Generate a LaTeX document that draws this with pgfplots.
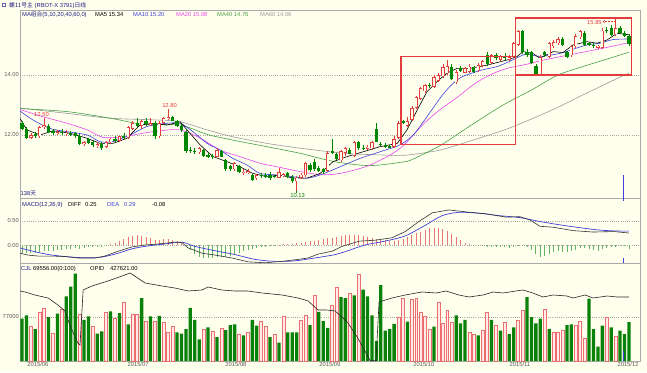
\documentclass[border=0pt]{standalone}
\usepackage{fontspec}
\setmainfont{Liberation Sans}
\newfontfamily\cjk{Noto Sans CJK SC}
\usepackage{pgfplots}
\usepackage{pgfplotstable}
\pgfplotsset{compat=1.18}
\usetikzlibrary{arrows.meta}
\definecolor{bg}{RGB}{255,255,238}
\definecolor{cred}{RGB}{228,60,60}
\definecolor{cgreen}{RGB}{0,135,0}
\definecolor{vred}{RGB}{236,110,110}
\definecolor{vredfill}{RGB}{255,236,232}
\definecolor{vgreen}{RGB}{10,130,10}
\definecolor{hred}{RGB}{232,120,120}
\definecolor{hgreen}{RGB}{100,180,100}
\definecolor{maBlue}{RGB}{64,64,220}
\definecolor{maMag}{RGB}{235,70,235}
\definecolor{maGreen}{RGB}{70,160,70}
\definecolor{maGray}{RGB}{155,155,155}
\definecolor{navy}{RGB}{30,30,130}
\definecolor{frame}{RGB}{170,170,170}
\definecolor{gridc}{RGB}{165,165,165}
\definecolor{lbl}{RGB}{90,90,90}
\newcommand\sm{\fontsize{5.8}{6.5}\selectfont}

\pgfplotstableread{
i o h l c
0 12.40 12.45 12.15 12.20
1 12.20 12.25 11.85 11.90
2 11.90 12.05 11.85 12.00
3 12.02 12.10 11.90 11.95
4 11.95 12.30 11.90 12.25
5 12.25 12.50 12.20 12.32
6 12.30 12.35 12.05 12.10
7 12.12 12.20 12.00 12.05
8 12.04 12.15 12.00 12.10
9 12.10 12.20 12.00 12.05
10 12.02 12.15 11.95 12.08
11 12.08 12.12 11.95 12.00
12 12.05 12.10 11.90 11.95
13 11.98 12.02 11.65 11.70
14 11.70 11.80 11.62 11.76
15 11.85 11.90 11.70 11.72
16 11.75 11.82 11.60 11.65
17 11.63 11.75 11.55 11.70
18 11.70 11.75 11.50 11.55
19 11.60 11.80 11.58 11.75
20 11.75 11.90 11.70 11.88
21 11.88 11.95 11.75 11.80
22 11.80 11.98 11.78 11.95
23 11.95 12.05 11.85 11.90
24 11.90 12.30 11.88 12.25
25 12.20 12.45 12.15 12.40
26 12.40 12.55 12.25 12.30
27 12.30 12.50 12.20 12.45
28 12.45 12.55 12.30 12.35
29 12.33 12.55 12.30 12.40
30 12.40 12.45 11.85 11.95
31 11.95 12.45 11.90 12.40
32 12.40 12.60 12.35 12.55
33 12.52 12.80 12.50 12.60
34 12.60 12.62 12.45 12.48
35 12.45 12.50 12.28 12.30
36 12.30 12.35 12.10 12.15
37 12.10 12.15 11.40 11.45
38 11.50 11.60 11.40 11.45
39 11.48 11.55 11.38 11.42
40 11.42 11.60 11.38 11.55
41 11.50 11.52 11.25 11.30
42 11.32 11.40 11.22 11.28
43 11.30 11.35 11.20 11.25
44 11.28 11.55 11.25 11.50
45 11.48 11.50 11.25 11.28
46 11.15 11.20 10.80 10.85
47 10.95 11.00 10.80 10.85
48 10.85 11.10 10.80 11.05
49 10.95 11.00 10.72 10.78
50 10.72 10.85 10.65 10.78
51 10.72 10.85 10.70 10.80
52 10.68 10.70 10.45 10.50
53 10.55 10.70 10.50 10.65
54 10.65 10.72 10.55 10.62
55 10.68 10.72 10.55 10.60
56 10.68 10.75 10.50 10.55
57 10.62 10.68 10.55 10.60
58 10.58 10.90 10.55 10.75
59 10.64 10.72 10.60 10.70
60 10.72 10.75 10.55 10.60
61 10.60 10.65 10.40 10.45
62 10.45 10.62 10.13 10.58
63 10.58 10.72 10.52 10.68
64 10.65 11.10 10.60 11.05
65 11.00 11.05 10.75 10.82
66 11.10 11.20 10.80 10.85
67 10.90 10.95 10.75 10.80
68 10.85 10.90 10.70 10.75
69 10.80 11.45 10.78 11.40
70 11.45 11.85 11.35 11.40
71 11.35 11.40 11.15 11.20
72 11.15 11.50 11.10 11.45
73 11.40 11.60 11.30 11.55
74 11.50 11.55 11.35 11.38
75 11.30 11.80 11.28 11.75
76 11.75 11.80 11.50 11.55
77 11.55 11.65 11.50 11.52
78 11.54 11.65 11.50 11.61
79 11.55 11.80 11.50 11.75
80 12.20 12.40 11.75 11.78
81 11.70 11.78 11.62 11.65
82 11.65 11.72 11.58 11.60
83 11.62 11.68 11.55 11.58
84 11.60 11.95 11.58 11.85
85 11.90 12.45 11.85 12.40
86 12.45 12.50 12.35 12.40
87 12.30 12.60 12.25 12.45
88 12.50 12.95 12.45 12.90
89 12.90 13.30 12.85 13.25
90 13.20 13.60 13.15 13.55
91 13.45 13.70 13.40 13.65
92 13.68 13.72 13.58 13.62
93 13.60 14.00 13.55 13.92
94 13.80 14.05 13.75 14.00
95 13.95 14.35 13.90 14.25
96 14.05 14.50 14.00 14.30
97 14.28 14.35 13.82 13.85
98 13.75 14.15 13.70 14.10
99 14.22 14.30 14.10 14.12
100 14.08 14.28 14.05 14.22
101 14.10 14.35 14.08 14.28
102 14.25 14.30 14.05 14.10
103 14.15 14.40 14.10 14.32
104 14.30 14.50 14.25 14.45
105 14.65 14.75 14.30 14.35
106 14.40 14.70 14.35 14.65
107 14.65 14.72 14.50 14.55
108 14.50 14.68 14.45 14.62
109 14.60 14.72 14.50 14.55
110 14.50 14.65 14.45 14.60
111 14.60 15.10 14.55 15.05
112 15.00 15.50 14.95 15.45
113 15.45 15.50 14.70 14.75
114 14.78 14.85 14.60 14.65
115 14.75 14.80 14.35 14.40
116 14.30 14.35 13.95 14.00
117 14.00 14.65 13.97 14.60
118 14.75 14.80 14.60 14.65
119 14.60 15.10 14.55 15.05
120 14.95 15.15 14.90 15.10
121 15.05 15.25 15.00 15.20
122 15.20 15.25 14.95 15.00
123 14.75 14.80 14.55 14.60
124 14.65 15.00 14.60 14.95
125 14.95 15.35 14.90 15.30
126 15.25 15.50 15.20 15.45
127 15.40 15.45 14.95 15.00
128 15.05 15.10 14.95 15.00
129 15.00 15.05 14.90 14.95
130 14.90 15.00 14.85 14.98
131 14.90 15.55 14.85 15.48
132 15.50 15.60 15.40 15.45
133 15.55 15.65 15.30 15.32
134 15.35 15.85 15.30 15.55
135 15.55 15.62 15.35 15.40
136 15.40 15.45 15.25 15.30
137 15.30 15.35 14.95 15.02
}\candles

\pgfplotstableread{
i v u
0 74000 0
1 80000 0
2 61000 1
3 56000 0
4 86000 1
5 93000 1
6 77000 0
7 48000 1
8 83000 0
9 91000 1
10 113000 0
11 130000 0
12 153000 0
13 82000 1
14 72000 0
15 78000 0
16 60000 1
17 48000 0
18 52000 0
19 86000 1
20 87000 0
21 74000 1
22 84000 0
23 102000 1
24 64000 0
25 82000 1
26 82000 1
27 110000 0
28 70000 1
29 78000 0
30 70000 1
31 79000 0
32 68000 1
33 51000 1
34 61000 1
35 50000 0
36 48000 0
37 56000 0
38 93000 0
39 72000 0
40 38000 0
41 56000 1
42 59000 0
43 52000 1
44 42000 0
45 57000 1
46 54000 0
47 63000 0
48 64000 0
49 47000 1
50 45000 0
51 51000 1
52 72000 0
53 62000 0
54 69000 1
55 60000 1
56 42000 0
57 47000 1
58 32000 0
59 78000 1
60 50000 0
61 50000 0
62 50000 0
63 71000 1
64 80000 1
65 63000 0
66 115000 1
67 86000 0
68 70000 0
69 58000 0
70 98000 1
71 129000 1
72 112000 0
73 110000 0
74 119000 1
75 115000 0
76 152000 1
77 125000 0
78 113000 0
79 80000 0
80 35000 0
81 133000 0
82 53000 0
83 56000 0
84 65000 0
85 76000 1
86 109000 1
87 69000 0
88 108000 1
89 110000 1
90 86000 1
91 79000 1
92 56000 1
93 60000 0
94 103000 1
95 66000 1
96 88000 1
97 68000 1
98 80000 0
99 66000 0
100 72000 0
101 50000 1
102 47000 1
103 45000 0
104 54000 1
105 86000 1
106 72000 0
107 63000 1
108 53000 0
109 68000 1
110 47000 0
111 59000 0
112 72000 1
113 89000 1
114 112000 0
115 77000 0
116 66000 0
117 74000 0
118 91000 1
119 56000 0
120 50000 1
121 51000 1
122 53000 1
123 63000 0
124 64000 0
125 63000 1
126 69000 1
127 39000 1
128 109000 0
129 56000 0
130 25000 0
131 62000 0
132 77000 1
133 59000 0
134 44000 1
135 53000 0
136 47000 0
137 68000 0
}\vol

\pgfplotstableread{
i m
0 -0.16
1 -0.17
2 -0.17
3 -0.16
4 -0.14
5 -0.12
6 -0.13
7 -0.12
8 -0.10
9 -0.10
10 -0.09
11 -0.08
12 -0.07
13 -0.08
14 -0.06
15 -0.05
16 -0.05
17 -0.04
18 -0.04
19 -0.03
20 0.02
21 0.05
22 0.08
23 0.12
24 0.16
25 0.19
26 0.20
27 0.19
28 0.17
29 0.15
30 0.10
31 0.11
32 0.12
33 0.13
34 0.11
35 0.08
36 0.05
37 -0.03
38 -0.10
39 -0.18
40 -0.24
41 -0.27
42 -0.28
43 -0.27
44 -0.26
45 -0.24
46 -0.25
47 -0.22
48 -0.18
49 -0.16
50 -0.13
51 -0.10
52 -0.09
53 -0.07
54 -0.05
55 -0.04
56 -0.03
57 -0.02
58 0.01
59 0.02
60 0.02
61 0.03
62 0.04
63 0.05
64 0.07
65 0.08
66 0.09
67 0.10
68 0.12
69 0.14
70 0.15
71 0.16
72 0.18
73 0.20
74 0.21
75 0.21
76 0.20
77 0.19
78 0.17
79 0.15
80 0.12
81 0.11
82 0.10
83 0.09
84 0.09
85 0.11
86 0.13
87 0.16
88 0.20
89 0.24
90 0.28
91 0.32
92 0.35
93 0.36
94 0.36
95 0.33
96 0.30
97 0.22
98 0.16
99 0.10
100 0.05
101 0.02
102 -0.01
103 -0.02
104 -0.03
105 -0.04
106 -0.04
107 -0.05
108 -0.05
109 -0.05
110 -0.06
111 -0.05
112 -0.03
113 -0.02
114 -0.05
115 -0.10
116 -0.18
117 -0.25
118 -0.22
119 -0.18
120 -0.14
121 -0.12
122 -0.14
123 -0.15
124 -0.12
125 -0.10
126 -0.06
127 -0.07
128 -0.08
129 -0.10
130 -0.12
131 -0.08
132 -0.06
133 -0.05
134 -0.04
135 -0.02
136 -0.03
137 -0.08
}\macdh

\pgfplotsset{
 panel/.style={scale only axis, width=620pt, xmin=-0.45, xmax=139.5,
   anchor=south west,
   axis line style={draw=frame, line width=0.5pt},
   major tick length=0pt, tick style={draw=none},
   scaled y ticks=false, scaled x ticks=false,
   ymajorgrids, grid style={dash pattern=on 0.6pt off 1.6pt, draw=gridc, line width=0.5pt},
   xtick=\empty,
   yticklabel style={font=\sm, text=lbl, inner sep=1pt},
   clip=true},
 cup/.style={x filter/.expression={\thisrow{c}>=\thisrow{o} ? x : nan}},
 cdn/.style={x filter/.expression={\thisrow{c}<\thisrow{o} ? x : nan}},
 vup/.style={x filter/.expression={\thisrow{u}>0.5 ? x : nan}},
 vdn/.style={x filter/.expression={\thisrow{u}<0.5 ? x : nan}},
}

\begin{document}
\begin{tikzpicture}[x=1pt,y=1pt]
\useasboundingbox (0,0) rectangle (647,372);
\fill[bg] (0,0) rectangle (647,372);

% ---------------- main price panel ----------------
\begin{axis}[panel, at={(20pt,174pt)}, height=188pt,
  ymin=9.9, ymax=16.1667, ytick={12,14}, yticklabels={12.00,14.00}]
\addplot[maGray, line width=0.6pt, smooth] coordinates {(-0.45,12.90) (10.2,12.72) (19.9,12.56) (30.5,12.50) (35.7,12.44) (41.8,12.17) (47.6,11.94) (55.3,11.72) (62.8,11.56) (69.5,11.44) (74.7,11.37) (82.4,11.33) (86.9,11.33) (94.4,11.50) (101.8,11.83) (110,12.23) (119.9,12.85) (127.5,13.40) (136,14.00) (137,14.06)};
\addplot[maGreen, line width=0.6pt, smooth] coordinates {(-0.45,12.88) (10.2,12.78) (19.9,12.56) (27.3,12.36) (35.7,12.33) (41.8,12.02) (47.6,11.83) (55.3,11.61) (62.8,11.39) (67.3,11.22) (71.8,11.08) (78.6,10.98) (86,11.10) (88.3,11.20) (94.4,11.65) (101.1,12.30) (108.6,13.00) (115,13.50) (121,14.00) (127,14.30) (131.4,14.50) (137,14.76)};
\addplot[maMag, line width=0.6pt, smooth] coordinates {(-0.45,12.85) (4.7,12.61) (10.2,12.39) (14.7,12.17) (18.3,11.92) (22.8,11.94) (27.3,12.06) (31.1,12.14) (35.7,12.17) (40.2,11.90) (44.7,11.50) (49.2,11.28) (53.7,11.06) (57.6,10.94) (62.8,10.78) (67.3,10.68) (71.8,10.72) (78.6,11.00) (85.3,11.55) (90.5,12.35) (94.4,12.85) (98.2,13.25) (101.8,13.67) (105.6,14.00) (109.5,14.22) (113.7,14.35) (117.8,14.50) (123.5,14.67) (131.4,14.90) (137,15.08)};
\addplot[maBlue, line width=0.6pt, smooth] coordinates {(-0.45,12.80) (2.5,12.50) (6.3,12.22) (10.2,12.11) (14.7,12.00) (17.6,11.78) (20.5,11.78) (24.4,12.00) (28.2,12.28) (32.7,12.39) (35.7,12.39) (38.6,12.11) (41.8,11.72) (44.7,11.50) (47.6,11.22) (50.8,11.00) (53.7,10.72) (57.6,10.67) (61.2,10.61) (64.3,10.56) (67.3,10.67) (71.8,10.94) (76.3,11.22) (80.8,11.44) (85.3,11.67) (88.3,12.00) (90.5,12.42) (92.8,12.90) (95,13.35) (97.3,13.72) (99.5,13.95) (103.4,14.15) (107.2,14.28) (110,14.45) (112.4,14.62) (114,14.70) (116.9,14.62) (121.4,14.72) (124.4,14.86) (127.5,15.00) (130.5,15.06) (133.4,15.18) (137,15.20)};
\addplot[black, line width=0.6pt] coordinates {(-0.45,12.55) (1.1,12.17) (4.1,12.00) (7.0,12.14) (10.8,12.06) (14.7,11.89) (17.6,11.72) (20.5,11.72) (23.7,11.89) (26.6,12.33) (29.6,12.39) (32.7,12.33) (35.7,12.44) (37.9,12.06) (40.2,11.67) (43.1,11.28) (46.3,11.11) (49.2,10.94) (52.1,10.72) (55.3,10.61) (58.2,10.67) (61.2,10.56) (64.3,10.56) (67.3,10.72) (70.2,11.11) (73.4,11.28) (77.0,11.44) (80.8,11.61) (84.7,11.72) (86.9,12.17) (89.2,12.83) (91.4,13.44) (93.7,13.78) (95.9,14.06) (98.2,14.22) (101.1,14.22) (105.0,14.33) (109.5,14.50) (111.7,14.61) (113.1,14.78) (115.3,14.72) (116.9,14.56) (119.9,14.78) (122.1,14.75) (124.4,15.00) (127.5,15.11) (129.8,15.06) (132.1,15.17) (134.3,15.39) (137,15.34)};
% candles: wicks
\addplot[cred, line width=0.7pt, -, quiver={u=0, v=\thisrow{h}-\thisrow{l}}, cup] table[x=i, y=l] {\candles};
\addplot[cgreen, line width=0.7pt, -, quiver={u=0, v=\thisrow{h}-\thisrow{l}}, cdn] table[x=i, y=l] {\candles};
% bodies
\addplot[cgreen, line width=3.2pt, -, quiver={u=0, v=\thisrow{o}-\thisrow{c}}, cdn] table[x=i, y=c] {\candles};
\addplot[cred, line width=3.3pt, -, quiver={u=0, v=\thisrow{c}-\thisrow{o}}, cup] table[x=i, y=o] {\candles};
\addplot[bg, line width=1.9pt, -, quiver={u=0, v=\thisrow{c}-\thisrow{o}, every arrow/.append style={shorten <=0.7pt, shorten >=0.7pt}}, cup] table[x=i, y=o] {\candles};
% boxes and marks
\draw[cred, line width=1.1pt] (axis cs:85.55,11.67) rectangle (axis cs:111.3,14.63);
\draw[cred, line width=1.1pt] (axis cs:111.3,14.0) rectangle (axis cs:137.55,15.9);
\draw[cred, line width=0.5pt] (axis cs:5,12.50) -- (axis cs:5,12.56);
\node[font=\sm, text=cred, inner sep=0pt] at (axis cs:4.4,12.67) {12.50};
\draw[cred, line width=0.5pt] (axis cs:33,12.80) -- (axis cs:33,12.86);
\node[font=\sm, text=cred, inner sep=0pt] at (axis cs:33.3,12.97) {12.80};
\draw[cgreen, line width=0.5pt] (axis cs:62,10.13) -- (axis cs:62,10.07);
\node[font=\sm, text=cgreen, inner sep=0pt] at (axis cs:62.2,9.98) {10.13};
\node[font=\sm, text=cred, inner sep=0pt, anchor=east] at (axis cs:130.9,15.76) {15.85};
\draw[cred, densely dotted, line width=0.5pt, {Straight Barb[length=1.6pt,width=3pt]}-] (axis cs:131.1,15.78) -- (axis cs:134,15.78);
\draw[maBlue, line width=0.7pt] (axis cs:135.7,9.9) -- (axis cs:135.7,10.67);
\end{axis}

% ---------------- MACD panel ----------------
\begin{axis}[panel, at={(20pt,108.5pt)}, height=65.5pt,
  ymin=-0.385, ymax=0.979, ytick={0,0.5}, yticklabels={0.00,0.50}]
\addplot[ycomb, hred, line width=0.8pt, y filter/.expression={y>=0 ? y : nan}] table[x=i, y=m] {\macdh};
\addplot[ycomb, hgreen, line width=0.8pt, y filter/.expression={y<0 ? y : nan}] table[x=i, y=m] {\macdh};
\addplot[maBlue, line width=0.7pt, smooth] coordinates {(-0.45,-0.06) (2.9,-0.14) (6.8,-0.21) (12.6,-0.26) (17.2,-0.26) (21.0,-0.19) (24.8,-0.08) (28.4,-0.02) (33.0,0.03) (36.1,0.06) (39.1,-0.03) (43.6,-0.12) (48.1,-0.20) (52.6,-0.30) (57.1,-0.34) (61.6,-0.33) (66.1,-0.27) (70.7,-0.20) (72.9,-0.14) (77.4,0.00) (81.9,0.08) (86.5,0.19) (91.2,0.42) (94.8,0.61) (98.6,0.68) (103.2,0.66) (107.9,0.61) (112.4,0.57) (116.9,0.49) (121.4,0.42) (126.0,0.36) (130.5,0.31) (135.0,0.29) (137,0.29)};
\addplot[black!80, line width=0.6pt] coordinates {(-0.45,-0.17) (1.35,-0.21) (3.6,-0.23) (6.8,-0.23) (9.7,-0.24) (12.6,-0.27) (16.5,-0.27) (18.7,-0.23) (21.7,-0.13) (24.8,-0.04) (27.8,0.00) (30.7,0.02) (34.5,0.06) (36.1,0.05) (37.5,-0.06) (40.6,-0.17) (43.6,-0.21) (47.4,-0.27) (51.0,-0.35) (54.9,-0.37) (58.7,-0.34) (62.3,-0.30) (64.6,-0.27) (66.8,-0.19) (70.0,-0.13) (72.2,-0.03) (76.1,0.08) (79.7,0.10) (83.5,0.15) (86.5,0.28) (89.6,0.49) (92.6,0.67) (96.4,0.73) (100.2,0.69) (104.7,0.65) (109.3,0.58) (112.4,0.59) (114.7,0.52) (116.9,0.39) (119.9,0.37) (124.4,0.30) (128.9,0.27) (133.6,0.28) (137,0.25)};
\draw[maBlue, line width=0.7pt] (axis cs:135.7,0.979) -- (axis cs:135.7,0.92);
\draw[maBlue, line width=0.7pt] (axis cs:135.7,-0.385) -- (axis cs:135.7,-0.27);
\end{axis}

% ---------------- volume panel ----------------
\begin{axis}[panel, at={(20pt,11pt)}, height=97.5pt,
  ymin=0, ymax=170625, ytick={77000}, yticklabels={77000},
  xtick={3.6,26.2,48.3,69.5,90.7,112.4,136.8},
  xticklabels={2015/06,2015/07,2015/08,2015/09,2015/10,2015/11,2015/12},
  xticklabel style={font=\sm, text=lbl, inner sep=1.5pt}]
\addplot[ybar, bar width=2.9pt, bar shift=0pt, draw=vred, fill=vredfill, line width=0.6pt, vup] table[x=i, y=v] {\vol};
\addplot[ybar, bar width=3.3pt, bar shift=0pt, draw=none, fill=vgreen, vdn] table[x=i, y=v] {\vol};
\draw[maBlue, line width=0.7pt] (axis cs:135.7,0) -- (axis cs:135.7,17500);
\end{axis}
\begin{axis}[scale only axis, width=620pt, height=97.5pt, at={(20pt,11pt)}, anchor=south west,
  xmin=-0.45, xmax=139.5, ymin=43.6, ymax=628.6, hide axis, clip=true]
\addplot[black!85, line width=0.6pt] coordinates {(-0.45,463.6) (0.7,457.6) (2.9,439.6) (5.9,421.6) (8.1,379.6) (9.7,343.6) (10.8,259.6) (12.6,151.6) (13.1,140) (13.8,469.6) (15.8,493.6) (19.4,523.6) (22.6,553.6) (24.4,571.6) (27.8,511.6) (31.6,493.6) (34.5,481.6) (37.5,463.6) (40.6,469.6) (42.0,487.6) (45.1,469.6) (48.1,463.6) (51.0,463.6) (54.2,451.6) (58.7,439.6) (62.3,421.6) (64.6,403.6) (66.8,349.6) (68.8,349.6) (70.7,343.6) (73.6,271.6) (75.8,181.6) (77.9,79.6) (78.6,45) (79.9,45) (80.6,397.6) (83.5,421.6) (86.5,439.6) (90.3,457.6) (93.5,451.6) (95.7,463.6) (98.6,439.6) (100.9,427.6) (104.1,439.6) (106.3,457.6) (108.6,451.6) (111.5,463.6) (113.1,469.6) (115.3,451.6) (117.6,427.6) (119.9,439.6) (123.0,433.6) (124.4,421.6) (127.1,439.6) (128.9,421.6) (132.1,433.6) (134.3,427.6) (136.6,427.6) (137,427.621)};
\end{axis}

% ---------------- texts ----------------
\fill[navy!70] (2,365) rectangle (6,369);
\fill[white] (3,366) rectangle (5,368);
\node[anchor=base west, inner sep=0pt, font=\sm, text=navy] at (9,364.3) {{\cjk 螺11号主} (RBOT-X 3791){\cjk 日线}};
\node[anchor=base west, inner sep=0pt, font=\sm, text=navy] at (22,355) {MA{\cjk 组合}(5,10,20,40,60,0)};
\node[anchor=base west, inner sep=0pt, font=\sm, text=black] at (95,355) {MA5 15.34};
\node[anchor=base west, inner sep=0pt, font=\sm, text=maBlue] at (133,355) {MA10 15.20};
\node[anchor=base west, inner sep=0pt, font=\sm, text=maMag] at (176,355) {MA20 15.08};
\node[anchor=base west, inner sep=0pt, font=\sm, text=maGreen] at (217,355) {MA40 14.76};
\node[anchor=base west, inner sep=0pt, font=\sm, text=maGray] at (260,355) {MA60 14.06};
\node[anchor=base west, inner sep=0pt, font=\sm, text=navy] at (20.5,176) {138{\cjk 天}};
\node[anchor=base west, inner sep=0pt, font=\sm, text=navy] at (22,165.5) {MACD(12,26,9)};
\node[anchor=base west, inner sep=0pt, font=\sm, text=black] at (68,165.5) {DIFF};
\node[anchor=base west, inner sep=0pt, font=\sm, text=black] at (85,165.5) {0.25};
\node[anchor=base west, inner sep=0pt, font=\sm, text=maBlue] at (107,165.5) {DEA};
\node[anchor=base west, inner sep=0pt, font=\sm, text=maBlue] at (124,165.5) {0.29};
\node[anchor=base west, inner sep=0pt, font=\sm, text=black] at (152,165.5) {-0.08};
\node[anchor=base west, inner sep=0pt, font=\sm, text=navy] at (21,101) {CJL};
\node[anchor=base west, inner sep=0pt, font=\sm, text=black] at (33,101) {69556.00(0:100)};
\node[anchor=base west, inner sep=0pt, font=\sm, text=black] at (90,101) {OPID};
\node[anchor=base west, inner sep=0pt, font=\sm, text=black] at (110,101) {427621.00};
\end{tikzpicture}
\end{document}
